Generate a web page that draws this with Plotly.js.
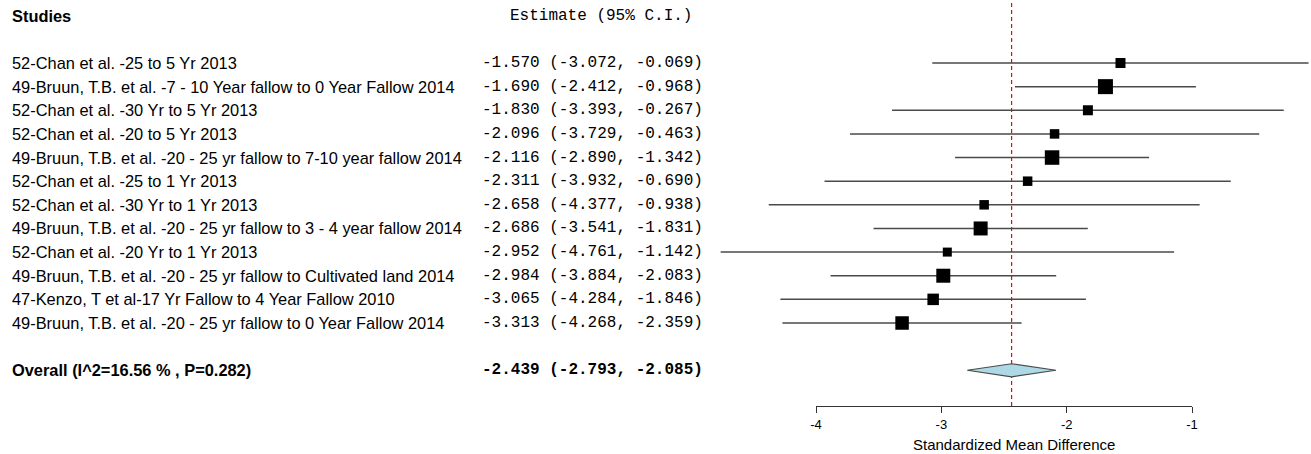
<!DOCTYPE html>
<html>
<head>
<meta charset="utf-8">
<script src="https://cdn.plot.ly/plotly-3.0.1.min.js"></script>
<style>html,body{margin:0;padding:0;background:#fff;}</style>
</head>
<body>
<div id="chart" style="width:1311px;height:454px;"></div>
<script>
// ---- data ----
const studies = [
  "52-Chan et al. -25 to 5 Yr 2013",
  "49-Bruun, T.B. et al. -7 - 10 Year fallow to 0 Year Fallow 2014",
  "52-Chan et al. -30 Yr to 5 Yr 2013",
  "52-Chan et al. -20 to 5 Yr 2013",
  "49-Bruun, T.B. et al. -20 - 25 yr fallow to 7-10 year fallow 2014",
  "52-Chan et al. -25 to 1 Yr 2013",
  "52-Chan et al. -30 Yr to 1 Yr 2013",
  "49-Bruun, T.B. et al. -20 - 25 yr fallow to 3 - 4 year fallow 2014",
  "52-Chan et al. -20 Yr to 1 Yr 2013",
  "49-Bruun, T.B. et al. -20 - 25 yr fallow to Cultivated land 2014",
  "47-Kenzo, T et al-17 Yr Fallow to 4 Year Fallow 2010",
  "49-Bruun, T.B. et al. -20 - 25 yr fallow to 0 Year Fallow 2014"
];
const estimates = [-1.570, -1.690, -1.830, -2.096, -2.116, -2.311, -2.658, -2.686, -2.952, -2.984, -3.065, -3.313];
const lowerCI   = [-3.072, -2.412, -3.393, -3.729, -2.890, -3.932, -4.377, -3.541, -4.761, -3.884, -4.284, -4.268];
const upperCI   = [-0.069, -0.968, -0.267, -0.463, -1.342, -0.690, -0.938, -1.831, -1.142, -2.083, -1.846, -2.359];
const boxSizes  = [10, 15, 10, 9.5, 14.5, 9.5, 9.5, 14, 9, 14, 11.5, 13.5];

const overallLabel = "Overall (I^2=16.56 % , P=0.282)";
const overallEst = -2.439;
const overallLo = -2.793;
const overallHi = -2.085;

const headerStudies = "Studies";
const headerEstimate = "Estimate (95% C.I.)";
const tickValues = [-4, -3, -2, -1];
const tickLabels = ["-4", "-3", "-2", "-1"];
const xAxisTitle = "Standardized Mean Difference";

// ---- geometry helpers ----
const W = 1311, H = 454, plotH = 406;
const xPaper = p => p / W;
const yPaper = p => 1 - p / plotH;

const fmt = v => v.toFixed(3);
const estText = (e, lo, hi) => fmt(e) + " (" + fmt(lo) + ", " + fmt(hi) + ")";

const rowY = studies.map((s, i) => -i);
const overallY = -(studies.length + 1);
const headerY = 2;

// CI lines
const ciX = [], ciY = [];
studies.forEach((s, i) => { ciX.push(lowerCI[i], upperCI[i], null); ciY.push(rowY[i], rowY[i], null); });

const dh = 0.275;
const traces = [
  {type: 'scatter', mode: 'markers', x: tickValues, y: tickValues.map(() => 100), xaxis: 'x2', yaxis: 'y',
   marker: {opacity: 0}, hoverinfo: 'skip', showlegend: false},
  {type: 'scatter', mode: 'lines', x: ciX, y: ciY, xaxis: 'x', yaxis: 'y',
   line: {color: '#4a4a4a', width: 1.5}, hoverinfo: 'skip', showlegend: false},
  {type: 'scatter', mode: 'markers', x: estimates, y: rowY, xaxis: 'x', yaxis: 'y',
   marker: {symbol: 'square', color: '#000000', opacity: 1, size: boxSizes, line: {width: 0}},
   hoverinfo: 'skip', showlegend: false},
  {type: 'scatter', mode: 'lines', xaxis: 'x', yaxis: 'y',
   x: [overallLo, overallEst, overallHi, overallEst, overallLo],
   y: [overallY, overallY + dh, overallY, overallY - dh, overallY],
   fill: 'toself', fillcolor: '#add8e6', line: {color: '#4a4a4a', width: 1.2},
   hoverinfo: 'skip', showlegend: false}
];

const annotations = [];
const studyFont = {family: 'Liberation Sans, Arial, sans-serif', size: 16.4, color: '#000'};
const monoFont = {family: 'Liberation Mono, Courier New, monospace', size: 16, color: '#000'};
annotations.push({xref: 'paper', yref: 'y', x: xPaper(10), y: headerY, xanchor: 'left', yanchor: 'middle',
  text: '<b>' + headerStudies + '</b>', showarrow: false, font: studyFont});
annotations.push({xref: 'paper', yref: 'y', x: xPaper(508), y: headerY, xanchor: 'left', yanchor: 'middle',
  text: headerEstimate, showarrow: false, font: monoFont});
studies.forEach((s, i) => {
  annotations.push({xref: 'paper', yref: 'y', x: xPaper(10), y: rowY[i], xanchor: 'left', yanchor: 'middle',
    text: s, showarrow: false, font: studyFont});
  annotations.push({xref: 'paper', yref: 'y', x: xPaper(480), y: rowY[i], xanchor: 'left', yanchor: 'middle',
    text: estText(estimates[i], lowerCI[i], upperCI[i]), showarrow: false, font: monoFont});
});
annotations.push({xref: 'paper', yref: 'y', x: xPaper(10), y: overallY, xanchor: 'left', yanchor: 'middle',
  text: '<b>' + overallLabel + '</b>', showarrow: false, font: studyFont});
annotations.push({xref: 'paper', yref: 'y', x: xPaper(480), y: overallY, xanchor: 'left', yanchor: 'middle',
  text: '<b>' + estText(overallEst, overallLo, overallHi) + '</b>', showarrow: false, font: monoFont});
annotations.push({xref: 'paper', yref: 'paper', x: xPaper(1014), y: yPaper(444), xanchor: 'center', yanchor: 'middle',
  text: xAxisTitle, showarrow: false, font: {family: 'Liberation Sans, Arial, sans-serif', size: 15, color: '#000'}});

const pxPerUnit = 125.3;
const x0 = -4 - 816 / pxPerUnit;
const x1 = x0 + W / pxPerUnit;
const yTop = 63 / 23.636;
const yBot = -(plotH - 63) / 23.636;

const layout = {
  width: W, height: H,
  margin: {l: 0, r: 0, t: 0, b: H - plotH, pad: 0},
  paper_bgcolor: '#fff', plot_bgcolor: 'rgba(0,0,0,0)',
  showlegend: false,
  hovermode: false,
  xaxis: {domain: [0, 1], range: [x0, x1], visible: false, fixedrange: true},
  xaxis2: {domain: [xPaper(816), xPaper(1192)], range: [-4, -1], anchor: 'y', side: 'bottom',
    showline: true, linecolor: '#333', linewidth: 1, ticks: 'outside', ticklen: 6, tickcolor: '#333',
    tickmode: 'array', tickvals: tickValues, ticktext: tickLabels, showgrid: false, zeroline: false,
    tickfont: {family: 'Liberation Sans, Arial, sans-serif', size: 13, color: '#000'}, fixedrange: true},
  yaxis: {domain: [0, 1], range: [yBot, yTop], visible: false, fixedrange: true},
  shapes: [
    {type: 'line', xref: 'x', yref: 'paper', x0: overallEst, x1: overallEst, y0: 0, y1: 1,
     line: {color: '#ff0000', width: 1.2, dash: '4px,3px'}, layer: 'below'}
  ],
  annotations: annotations
};

Plotly.newPlot('chart', traces, layout, {displayModeBar: false, staticPlot: true});
</script>
</body>
</html>
